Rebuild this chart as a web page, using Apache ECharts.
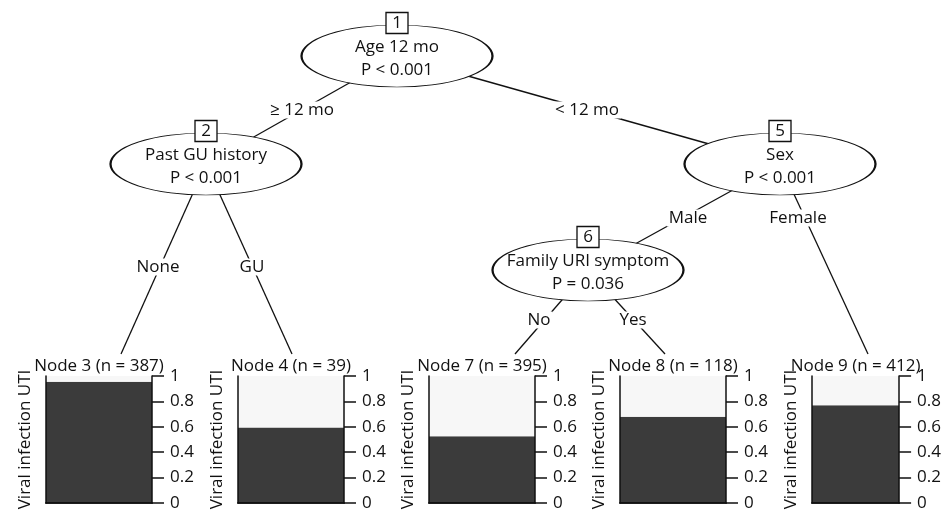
<!DOCTYPE html>
<html>
<head>
<meta charset="utf-8">
<script src="https://cdn.jsdelivr.net/npm/echarts@6/dist/echarts.min.js"></script>
<style>
  html, body { margin: 0; padding: 0; background: #fff; }
  #chart { width: 944px; height: 515px; }
</style>
</head>
<body>
<div id="chart"></div>
<script>
// ---------------- DATA ----------------
const innerIds = [1, 2, 5, 6];
const innerVars = ['Age 12 mo', 'Past GU history', 'Sex', 'Family URI symptom'];
const innerP = ['P < 0.001', 'P < 0.001', 'P < 0.001', 'P = 0.036'];

const edgeFrom = [1, 1, 2, 2, 5, 5, 6, 6];
const edgeTo = [2, 5, 3, 4, 6, 9, 7, 8];
const edgeLabels = ['≥ 12 mo', '< 12 mo', 'None', 'GU', 'Male', 'Female', 'No', 'Yes'];

const termIds = [3, 4, 7, 8, 9];
const termN = [387, 39, 395, 118, 412];
const darkShare = [0.955, 0.595, 0.525, 0.68, 0.77];   // lower (dark) segment
const lightShare = [0.045, 0.405, 0.475, 0.32, 0.23];  // upper (light) segment
const yAxisName = 'Viral infection UTI';

// ---------------- LAYOUT (pixel positions, not data) ----------------
const W = 944, H = 515;
const FONT = '"Open Sans", "Noto Sans", sans-serif';
const ink = '#111111';
const innerPos = { 1: [397, 56], 2: [206, 164], 5: [780, 164], 6: [588, 270] };
const ellipseSize = [191, 62];
const termLeft = { 3: 46, 4: 238, 7: 429, 8: 620, 9: 812 };
const termTop = 376, termW = 106, termH = 127;
const termAnchor = { 3: [121, 354], 4: [292, 354], 7: [515, 354], 8: [665, 354], 9: [868, 354] };
const edgeLabelPos = {
  '1-2': [302, 110], '1-5': [587, 110], '2-3': [158, 267], '2-4': [252, 267],
  '5-6': [688, 218], '5-9': [798, 218], '6-7': [539, 320], '6-8': [633, 320]
};

function nodePoint(id) {
  return innerPos[id] ? innerPos[id] : termAnchor[id];
}

// ---------------- OPTION ----------------
const grids = [{ left: 0, top: 0, width: W, height: H, show: false }];
const xAxes = [{ gridIndex: 0, type: 'value', min: 0, max: W, show: false }];
const yAxes = [{ gridIndex: 0, type: 'value', min: 0, max: H, inverse: true, show: false }];
const series = [];

// edges
series.push({
  type: 'lines',
  coordinateSystem: 'cartesian2d',
  xAxisIndex: 0, yAxisIndex: 0,
  z: 1,
  silent: true,
  lineStyle: { color: ink, width: 1.3, opacity: 1 },
  data: edgeFrom.map((f, i) => ({ coords: [nodePoint(f), nodePoint(edgeTo[i])] }))
});

// edge labels
series.push({
  type: 'scatter',
  xAxisIndex: 0, yAxisIndex: 0,
  z: 3,
  silent: true,
  symbol: 'rect',
  symbolSize: 1,
  itemStyle: { color: 'rgba(0,0,0,0)', opacity: 1 },
  label: {
    show: true, position: 'inside',
    formatter: p => p.name,
    fontFamily: FONT, fontSize: 17, color: ink,
    backgroundColor: '#fff', padding: [0, 2]
  },
  data: edgeFrom.map((f, i) => ({ name: edgeLabels[i], value: edgeLabelPos[f + '-' + edgeTo[i]] }))
});

// ellipses (inner nodes)
series.push({
  type: 'scatter',
  xAxisIndex: 0, yAxisIndex: 0,
  z: 4,
  silent: true,
  symbol: 'circle',
  symbolSize: ellipseSize,
  itemStyle: { color: '#fff', borderColor: ink, borderWidth: 1.3, opacity: 1 },
  label: {
    show: true, position: 'inside', offset: [0, 3],
    fontFamily: FONT, fontSize: 17, color: ink, lineHeight: 23,
    formatter: p => innerVars[p.dataIndex] + '\n' + innerP[p.dataIndex]
  },
  data: innerIds.map(id => ({ value: innerPos[id] }))
});

// node id boxes
series.push({
  type: 'scatter',
  xAxisIndex: 0, yAxisIndex: 0,
  z: 5,
  silent: true,
  symbol: 'rect',
  symbolSize: [22, 21],
  itemStyle: { color: '#fff', borderColor: ink, borderWidth: 1.3, opacity: 1 },
  label: {
    show: true, position: 'inside',
    fontFamily: FONT, fontSize: 17, color: ink,
    formatter: p => String(innerIds[p.dataIndex])
  },
  data: innerIds.map(id => ({ value: [innerPos[id][0], innerPos[id][1] - 33] }))
});

// terminal node bar panels
termIds.forEach((id, i) => {
  const g = grids.length;
  grids.push({ left: termLeft[id], top: termTop, width: termW, height: termH, show: false });
  const xb = xAxes.length;
  xAxes.push({
    gridIndex: g, type: 'category', data: [''], position: 'bottom', z: 10,
    axisLine: { show: true, lineStyle: { color: ink, width: 1.5 } },
    axisTick: { show: false }, axisLabel: { show: false }, splitLine: { show: false }
  });
  xAxes.push({
    gridIndex: g, type: 'category', data: [''], position: 'top', z: 10,
    name: 'Node ' + id + ' (n = ' + termN[i] + ')',
    nameLocation: 'middle', nameGap: 1,
    nameTextStyle: { fontFamily: FONT, fontSize: 17, color: ink, verticalAlign: 'bottom' },
    axisLine: { show: true, lineStyle: { color: ink, width: 1.5 } },
    axisTick: { show: false }, axisLabel: { show: false }, splitLine: { show: false }
  });
  const yr = yAxes.length;
  yAxes.push({
    gridIndex: g, type: 'value', min: 0, max: 1, interval: 0.2, position: 'right', z: 10,
    axisLine: { show: true, lineStyle: { color: ink, width: 1.5 } },
    axisTick: { show: true, inside: false, length: 12, lineStyle: { color: ink, width: 1.5 } },
    axisLabel: {
      show: true, margin: 18, fontFamily: FONT, fontSize: 17, color: ink,
      formatter: v => String(+v.toFixed(1))
    },
    splitLine: { show: false }
  });
  yAxes.push({
    gridIndex: g, type: 'value', min: 0, max: 1, position: 'left', z: 10,
    name: yAxisName, nameLocation: 'middle', nameGap: 12, nameRotate: 90,
    nameTextStyle: { fontFamily: FONT, fontSize: 17, color: ink },
    axisLine: { show: true, lineStyle: { color: ink, width: 1.5 } },
    axisTick: { show: false }, axisLabel: { show: false }, splitLine: { show: false }
  });
  series.push({
    type: 'bar', xAxisIndex: xb, yAxisIndex: yr, stack: 's' + id,
    barWidth: '100%', silent: true, z: 2,
    itemStyle: { color: '#3b3b3b' },
    data: [darkShare[i]]
  });
  series.push({
    type: 'bar', xAxisIndex: xb, yAxisIndex: yr, stack: 's' + id,
    barWidth: '100%', silent: true, z: 2,
    itemStyle: { color: '#f7f7f7' },
    data: [lightShare[i]]
  });
});

const chart = echarts.init(document.getElementById('chart'), null, { renderer: 'canvas' });
chart.setOption({
  animation: false,
  backgroundColor: '#fff',
  textStyle: { fontFamily: FONT },
  grid: grids,
  xAxis: xAxes,
  yAxis: yAxes,
  series: series
});
</script>
</body>
</html>
